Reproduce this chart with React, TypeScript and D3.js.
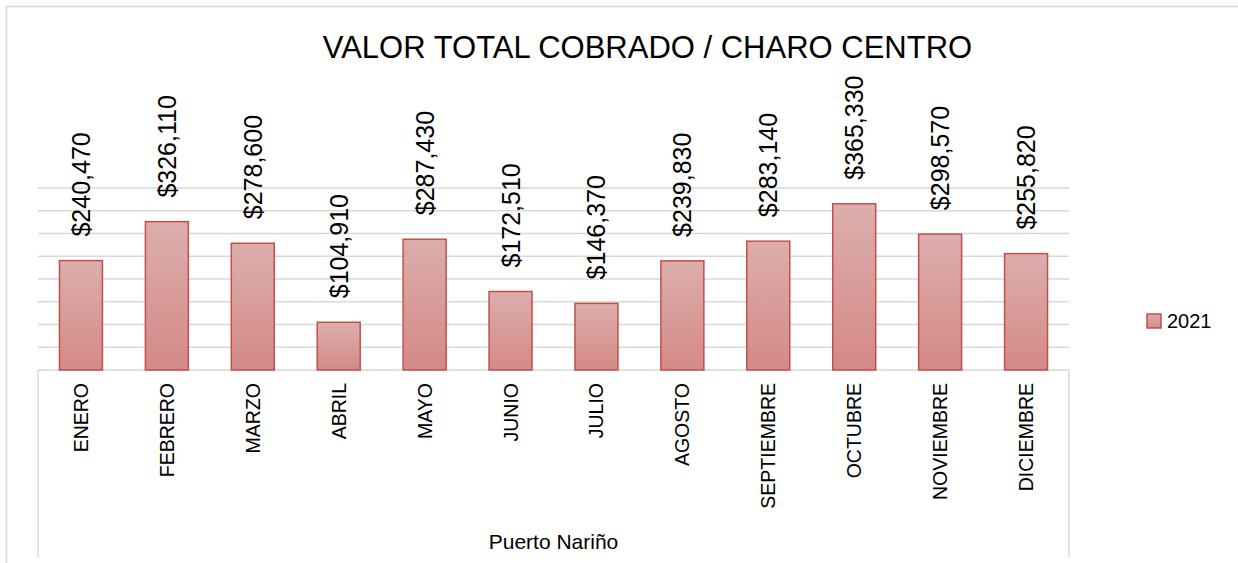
import * as d3 from 'd3';
import React, { useRef, useEffect } from 'react';

const months = ['ENERO', 'FEBRERO', 'MARZO', 'ABRIL', 'MAYO', 'JUNIO', 'JULIO', 'AGOSTO', 'SEPTIEMBRE', 'OCTUBRE', 'NOVIEMBRE', 'DICIEMBRE'];
const values2021 = [240470, 326110, 278600, 104910, 287430, 172510, 146370, 239830, 283140, 365330, 298570, 255820];
const gridTicks = [50000, 100000, 150000, 200000, 250000, 300000, 350000, 400000];
const seriesName = '2021';
const groupName = 'Puerto Nariño';
const title = 'VALOR TOTAL COBRADO / CHARO CENTRO';

export default function App() {
    const ref = useRef<SVGSVGElement>(null);
    const width = 1238;
    const height = 563;
    const plot = { left: 38, right: 1069, top: 188, bottom: 370 };
    const font = "'Liberation Sans', Arial, sans-serif";

    useEffect(() => {
        const svg = d3.select(ref.current);
        svg.selectAll('*').remove();

        const x = d3.scaleBand().domain(months).range([plot.left, plot.right]).paddingInner(0.5).paddingOuter(0.25);
        const y = d3.scaleLinear().domain([0, 400000]).range([plot.bottom, plot.top]);

        const defs = svg.append('defs');
        const grad = defs.append('linearGradient').attr('id', 'barGrad')
            .attr('x1', 0).attr('y1', 0).attr('x2', 0).attr('y2', 1);
        grad.append('stop').attr('offset', '0%').attr('stop-color', '#dcaeac');
        grad.append('stop').attr('offset', '100%').attr('stop-color', '#d48987');

        // chart border
        svg.append('rect')
            .attr('x', 6.5).attr('y', 6.5)
            .attr('width', width + 20).attr('height', height + 20)
            .attr('fill', 'none').attr('stroke', '#d9d9d9').attr('stroke-width', 1.5);

        // title
        svg.append('text')
            .attr('x', 647.5).attr('y', 58)
            .attr('text-anchor', 'middle')
            .style('font-family', font).style('font-size', '31px').attr('fill', '#000')
            .text(title);

        // gridlines
        svg.append('g').selectAll('line').data(gridTicks).enter().append('line')
            .attr('x1', plot.left).attr('x2', plot.right)
            .attr('y1', d => y(d)).attr('y2', d => y(d))
            .attr('stroke', '#d9d9d9').attr('stroke-width', 1.5);

        // axis lines (multi-level category box)
        const axisG = svg.append('g').attr('stroke', '#d9d9d9').attr('stroke-width', 1.5);
        axisG.append('line').attr('x1', plot.left).attr('x2', plot.right).attr('y1', y(0)).attr('y2', y(0));
        axisG.append('line').attr('x1', plot.left).attr('x2', plot.left).attr('y1', y(0)).attr('y2', 557);
        axisG.append('line').attr('x1', plot.right).attr('x2', plot.right).attr('y1', y(0)).attr('y2', 557);

        // bars
        svg.append('g').selectAll('rect').data(values2021).enter().append('rect')
            .attr('x', (d, i) => x(months[i])!)
            .attr('width', x.bandwidth())
            .attr('y', d => y(d))
            .attr('height', d => y(0) - y(d))
            .attr('fill', 'url(#barGrad)')
            .attr('stroke', '#c0504d').attr('stroke-width', 1.5);

        // value labels
        const fmt = d3.format(',');
        svg.append('g').selectAll('text').data(values2021).enter().append('text')
            .attr('transform', (d, i) => `translate(${x(months[i])! + x.bandwidth() / 2},${y(d) - 24}) rotate(-90)`)
            .attr('text-anchor', 'start').attr('dy', '0.36em')
            .style('font-family', font).style('font-size', '25px').attr('fill', '#000')
            .text(d => '$' + fmt(d));

        // category labels
        svg.append('g').selectAll('text').data(months).enter().append('text')
            .attr('transform', d => `translate(${x(d)! + x.bandwidth() / 2},383) rotate(-90)`)
            .attr('text-anchor', 'end').attr('dy', '0.36em')
            .style('font-family', font).style('font-size', '19.5px').attr('fill', '#000')
            .text(d => d);

        // group label
        svg.append('text')
            .attr('x', (plot.left + plot.right) / 2).attr('y', 549)
            .attr('text-anchor', 'middle')
            .style('font-family', font).style('font-size', '21px').attr('fill', '#000')
            .text(groupName);

        // legend
        const leg = svg.append('g').attr('transform', 'translate(1147,314)');
        leg.append('rect').attr('width', 14).attr('height', 14)
            .attr('fill', 'url(#barGrad)').attr('stroke', '#c0504d').attr('stroke-width', 1.5);
        leg.append('text').attr('x', 20).attr('y', 14)
            .style('font-family', font).style('font-size', '20px').attr('fill', '#000')
            .text(seriesName);
    }, []);

    return (
        <svg ref={ref} width={width} height={height}
            style={{ position: 'absolute', left: 0, top: 0, background: '#fff' }} />
    );
}
